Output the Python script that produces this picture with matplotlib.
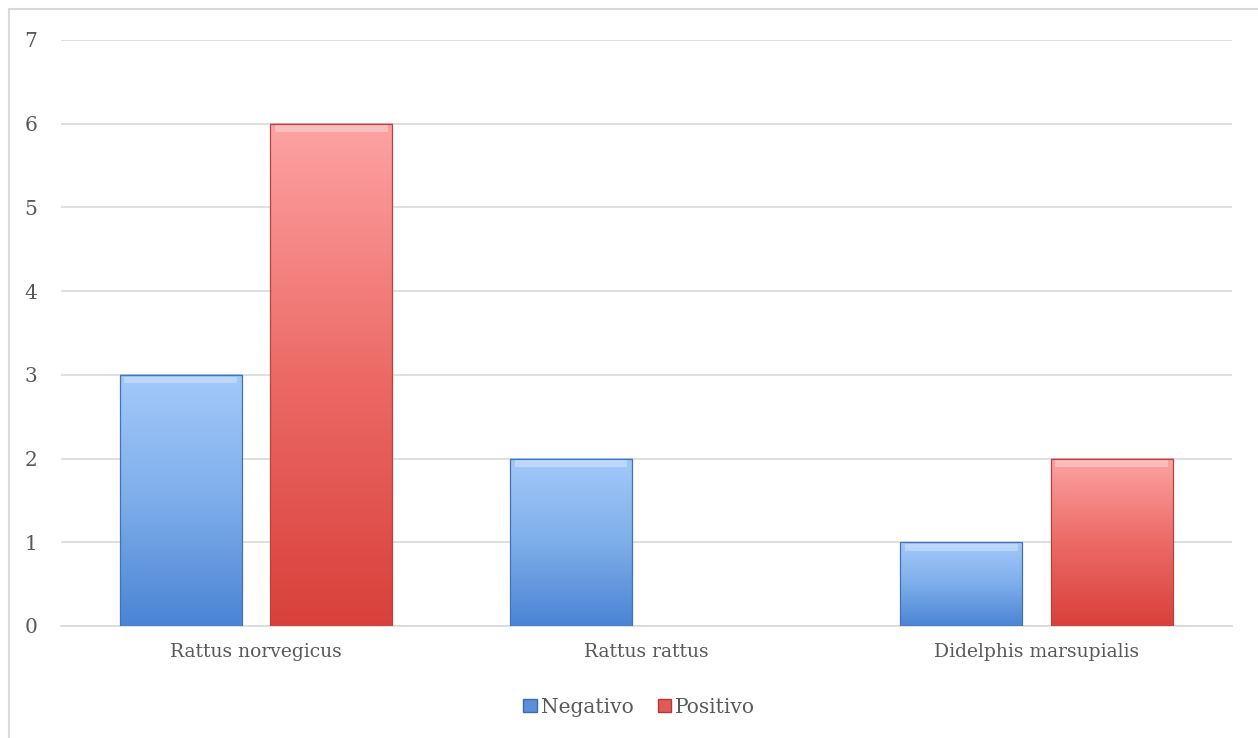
import numpy as np
import matplotlib
matplotlib.use('Agg')
import matplotlib.pyplot as plt
from matplotlib.colors import LinearSegmentedColormap
from matplotlib.patches import Rectangle, Patch

species = ['Rattus norvegicus', 'Rattus rattus', 'Didelphis marsupialis']
negativo = [3, 2, 1]
positivo = [6, 0, 2]
series_names = ['Negativo', 'Positivo']

plt.rcParams['font.family'] = ['DejaVu Serif']
text_color = '#595959'

blue_cmap = LinearSegmentedColormap.from_list('b', ['#4A84D4', '#7EAEEA', '#A3C9FA'])
red_cmap = LinearSegmentedColormap.from_list('r', ['#D9403B', '#EC6A66', '#FDA3A3'])

fig = plt.figure(figsize=(12.58, 7.38), dpi=100)
ax = fig.add_axes([0.0485, 0.1518, 0.9305, 0.794])

# outer chart border
fig.patches.append(Rectangle((9 / 1258, -0.01), 1.2, 1 - 9 / 738 + 0.01,
                             transform=fig.transFigure, fill=False,
                             edgecolor='#D9D9D9', linewidth=1.5))

x = np.arange(len(species))
width = 0.313
offset = 0.193
grad = np.linspace(0, 1, 256).reshape(-1, 1)


def draw_bar(xc, h, cmap, edge):
    if h <= 0:
        return
    x0, x1 = xc - width / 2, xc + width / 2
    ax.imshow(grad, cmap=cmap, extent=(x0, x1, 0, h), origin='lower',
              aspect='auto', zorder=3, interpolation='bicubic')
    ax.add_patch(Rectangle((x0, 0), width, h, fill=False, edgecolor=edge,
                           linewidth=0.9, zorder=4))
    # bevel-ish highlight at top
    ax.add_patch(Rectangle((x0 + 0.012, h - 0.1), width - 0.024, 0.08,
                           facecolor='white', alpha=0.3, linewidth=0, zorder=4))


for i in range(len(species)):
    draw_bar(x[i] - offset, negativo[i], blue_cmap, '#4472B8')
    draw_bar(x[i] + offset, positivo[i], red_cmap, '#B84440')

ax.set_xlim(-0.5, 2.5)
ax.set_ylim(0, 7)
ax.set_yticks(range(8))
ax.set_xticks(x)
ax.set_xticklabels(species, fontsize=13.5)
ax.grid(axis='y', color='#D9D9D9', linewidth=1.2, zorder=0)
ax.set_axisbelow(True)
for s in ['top', 'right', 'left']:
    ax.spines[s].set_visible(False)
ax.spines['bottom'].set_color('#D9D9D9')
ax.spines['bottom'].set_linewidth(1.2)
ax.tick_params(axis='both', length=0, colors=text_color)
ax.tick_params(axis='y', pad=17, labelsize=14.5)
ax.tick_params(axis='x', pad=12)

handles = [Patch(facecolor='#5B8FD8', edgecolor='#3A6DB0'),
           Patch(facecolor='#E05A56', edgecolor='#B03A36')]
leg = fig.legend(handles, series_names, loc='center', bbox_to_anchor=(0.508, 0.042),
                 ncol=2, frameon=False, fontsize=14.5, handlelength=0.65,
                 handleheight=0.65, handletextpad=0.2, columnspacing=1.2)
for t in leg.get_texts():
    t.set_color(text_color)

fig.savefig('out.png', dpi=100)
